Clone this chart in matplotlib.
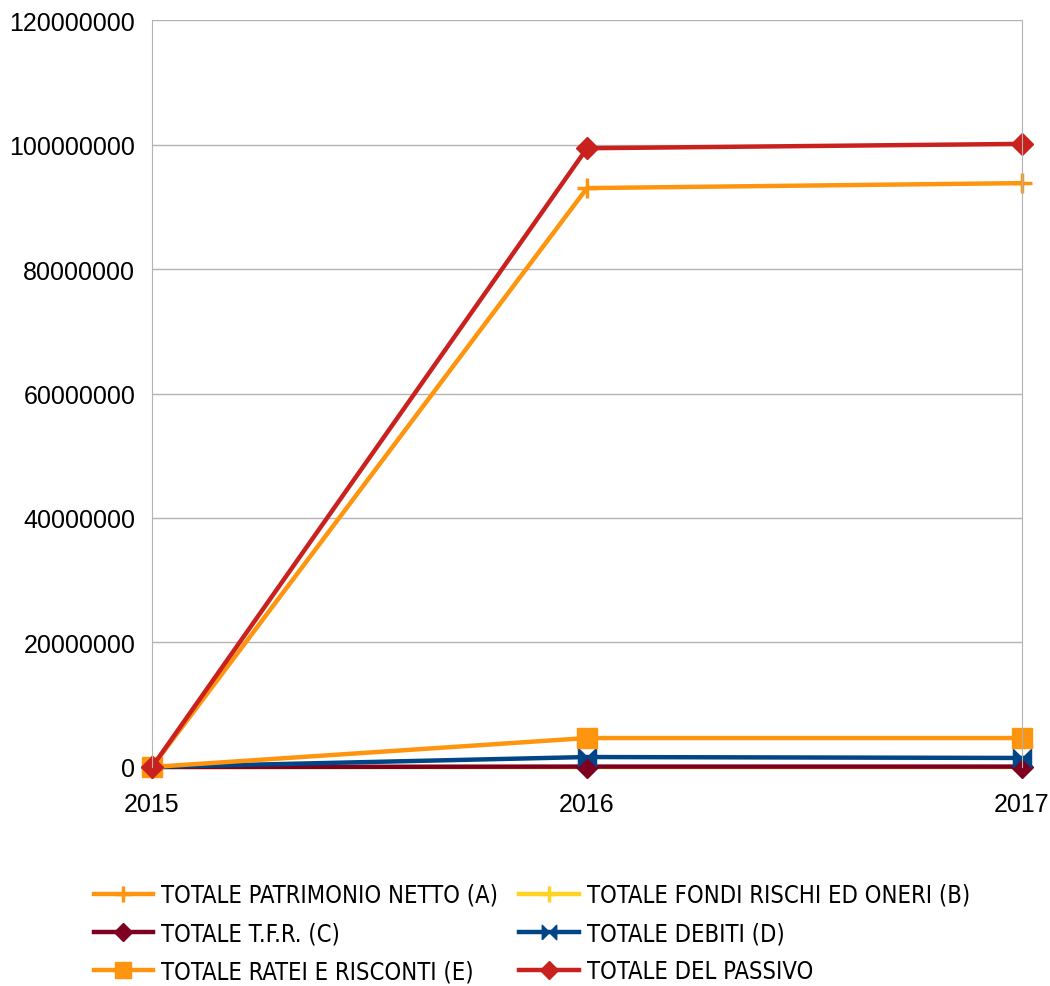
import matplotlib.pyplot as plt
from matplotlib.path import Path
from matplotlib.ticker import FuncFormatter

# Dati
anni = [2015, 2016, 2017]
patrimonio_netto = [0, 93000000, 93800000]
fondi_rischi = [0, 0, 0]
tfr = [0, 60000, 60000]
debiti = [0, 1600000, 1450000]
ratei_risconti = [0, 4650000, 4650000]
totale_passivo = [0, 99400000, 100100000]

plt.rcParams['font.family'] = ['Liberation Sans', 'DejaVu Sans']

# marker "a farfalla" per i debiti
bowtie = Path([(-1, -1), (0, 0), (1, -1), (1, 1), (0, 0), (-1, 1), (-1, -1)])

fig = plt.figure(figsize=(10.5, 9.87), dpi=100)
ax = fig.add_axes([0.1448, 0.2219, 0.8285, 0.7568])

lw = 3.2
h_a, = ax.plot(anni, patrimonio_netto, color='#ff950e', lw=lw, marker='+', ms=14, mew=2.5,
               label='TOTALE PATRIMONIO NETTO (A)', clip_on=False)
h_b, = ax.plot(anni, fondi_rischi, color='#ffd320', lw=lw, marker='+', ms=14, mew=2.5,
               label='TOTALE FONDI RISCHI ED ONERI (B)', clip_on=False)
h_c, = ax.plot(anni, tfr, color='#7e0021', lw=lw, marker='D', ms=11,
               label='TOTALE T.F.R. (C)', clip_on=False)
h_d, = ax.plot(anni, debiti, color='#004586', lw=lw, marker=bowtie, ms=13,
               label='TOTALE DEBITI (D)', clip_on=False)
h_e, = ax.plot(anni, ratei_risconti, color='#ff950e', lw=lw, marker='s', ms=14,
               label='TOTALE RATEI E RISCONTI (E)', clip_on=False)
h_t, = ax.plot(anni, totale_passivo, color='#c9211e', lw=lw, marker='D', ms=11,
               label='TOTALE DEL PASSIVO', clip_on=False)

ax.set_xlim(2015, 2017)
ax.set_ylim(0, 120000000)
ax.set_xticks(anni)
ax.set_yticks(range(0, 120000001, 20000000))
ax.yaxis.set_major_formatter(FuncFormatter(lambda v, p: f'{int(v)}'))
ax.tick_params(length=0, labelsize=18)
ax.tick_params(axis='x', pad=18)
ax.tick_params(axis='y', pad=12)

ax.grid(axis='y', color='#b3b3b3', lw=1)
ax.set_axisbelow(True)
for s in ['top', 'bottom']:
    ax.spines[s].set_visible(False)
for s in ['left', 'right']:
    ax.spines[s].set_color('#b3b3b3')

handles = [h_a, h_c, h_e, h_b, h_d, h_t]
fig.legend(handles, [h.get_label() for h in handles], ncol=2, loc='upper left',
           bbox_to_anchor=(0.069, 0.126), frameon=False, handlelength=2.5,
           handletextpad=0.36, columnspacing=0.9, labelspacing=0.6,
           prop={'family': 'DejaVu Sans', 'stretch': 'condensed', 'size': 17.0},
           markerscale=0.8)

fig.savefig('out.png', dpi=100)
